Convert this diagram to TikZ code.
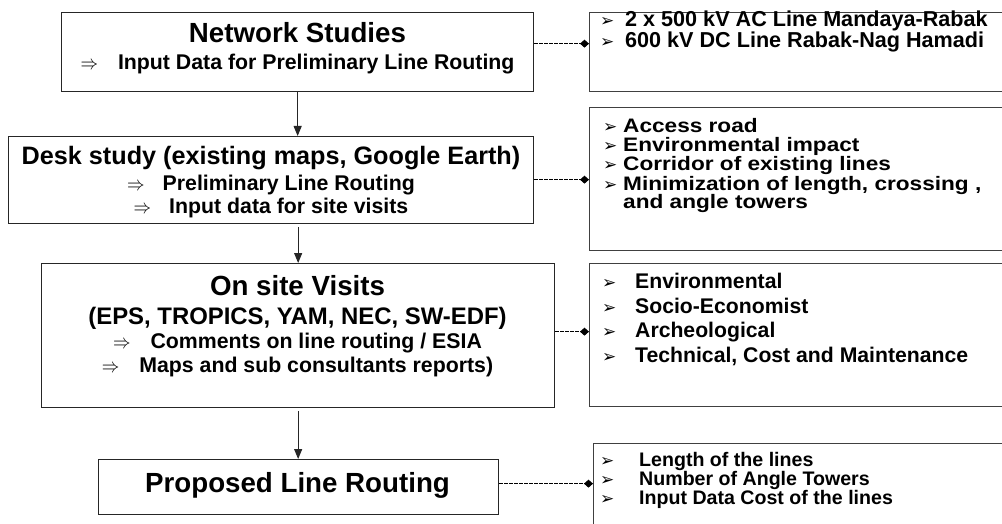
\documentclass[tikz,border=0pt]{standalone}
\usepackage{fontspec}
\usepackage{graphicx}
\usetikzlibrary{arrows.meta}
\setmainfont{Liberation Sans}
\newfontfamily\sidetxt{Liberation Sans}[FakeStretch=1.16]
\newfontfamily\bulletfont{DejaVu Sans}

% implication arrow in front of the sub-lines
\newcommand{\impl}[1]{\scalebox{1.75}[2.0]{\fontsize{10}{12}\selectfont$\Rightarrow$}\hspace{#1pt}}
% bullet of the side lists, set in a box of given width
\newcommand{\bul}[1]{\makebox[#1pt][l]{\bulletfont\mdseries\fontsize{17}{17}\selectfont ➢}}

\tikzset{
  box/.style={draw=black!85, line width=1.3pt, inner sep=0pt, anchor=north west},
  sidebox/.style={draw=black!75, line width=1.3pt, inner sep=0pt, anchor=north west},
  head/.style={anchor=base, inner sep=0pt, font=\bfseries\fontsize{27.7}{32}\selectfont},
  sub/.style={anchor=base, inner sep=0pt, font=\bfseries\fontsize{21.3}{25}\selectfont},
  itemA/.style={anchor=base west, inner sep=0pt, font=\bfseries\fontsize{21.6}{25}\selectfont},
  itemB/.style={anchor=base west, inner sep=0pt, font=\sidetxt\bfseries\fontsize{19.5}{23}\selectfont},
  itemC/.style={anchor=base west, inner sep=0pt, font=\bfseries\fontsize{21.2}{25}\selectfont},
  itemD/.style={anchor=base west, inner sep=0pt, font=\bfseries\fontsize{19.6}{23}\selectfont},
  flow/.style={line width=1pt, draw=black!85, -{Triangle[length=10pt,width=8pt]}},
  link/.style={line width=1.2pt, dash pattern=on 3.5pt off 1.5pt, -{Diamond[length=9pt,width=8pt]}},
}

\begin{document}
\begin{tikzpicture}[x=1pt, y=-1pt]
\useasboundingbox (0,0) rectangle (1002,524);
\clip (0,0) rectangle (1002,524);
\fill[white] (0,0) rectangle (1002,524);

% main process boxes
\node[box, minimum width=472pt, minimum height=79pt]  (b1) at (61,12)  {};
\node[box, minimum width=525pt, minimum height=87pt]  (b2) at (8,136)  {};
\node[box, minimum width=513pt, minimum height=144pt] (b3) at (41,263) {};
\node[box, minimum width=400pt, minimum height=55pt]  (b4) at (98,459) {};

% side boxes (running past the right edge)
\node[sidebox, minimum width=431pt, minimum height=79pt]  (r1) at (589,12)  {};
\node[sidebox, minimum width=431pt, minimum height=143pt] (r2) at (589,107) {};
\node[sidebox, minimum width=431pt, minimum height=143pt] (r3) at (589,263) {};
\node[sidebox, minimum width=427pt, minimum height=100pt] (r4) at (593,443) {};

% texts of the main boxes
\node[head] (t11) at (297.5,43) {Network Studies};
\node[sub]  (t12) at (297.5,70) {\impl{20}Input Data for Preliminary Line Routing};

\node[head, font=\bfseries\fontsize{25.2}{30}\selectfont] (t21) at (271,165) {Desk study (existing maps, Google Earth)};
\node[sub]  (t22) at (271,190) {\impl{18}Preliminary Line Routing};
\node[sub]  (t23) at (271,213) {\impl{18}Input data for site visits};

\node[head] (t31) at (297.5,295) {On site Visits};
\node[head, font=\bfseries\fontsize{23.9}{28}\selectfont] (t32) at (297.5,324) {(EPS, TROPICS, YAM, NEC, SW-EDF)};
\node[sub]  (t33) at (297.5,348) {\impl{20}Comments on line routing / ESIA};
\node[sub]  (t34) at (297.5,372) {\impl{20}Maps and sub consultants reports)};

\node[head] (t41) at (297.5,492) {Proposed Line Routing};

% side lists
\node[itemA] (s11) at (600,27) {\bul{25}2 x 500 kV AC Line Mandaya-Rabak};
\node[itemA] (s12) at (600,48) {\bul{25}600 kV DC Line Rabak-Nag Hamadi};

\node[itemB] (s21) at (603,133) {\bul{20}Access road};
\node[itemB] (s22) at (603,152) {\bul{20}Environmental impact};
\node[itemB] (s23) at (603,171) {\bul{20}Corridor of existing lines};
\node[itemB] (s24) at (603,190) {\bul{20}Minimization of length, crossing ,};
\node[itemB] (s25) at (623,208.5) {and angle towers};

\node[itemC] (s31) at (602,288) {\bul{33}Environmental};
\node[itemC] (s32) at (602,313) {\bul{33}Socio-Economist};
\node[itemC] (s33) at (602,337) {\bul{33}Archeological};
\node[itemC] (s34) at (602,362) {\bul{33}Technical, Cost and Maintenance};

\node[itemD] (s41) at (600,466) {\bul{39}Length of the lines};
\node[itemD] (s42) at (600,485) {\bul{39}Number of Angle Towers};
\node[itemD] (s43) at (600,504) {\bul{39}Input Data Cost of the lines};

% process flow
\draw[flow] (b1.south) -- (b1.south |- b2.north);
\draw[flow, shorten <=3pt] (b3.north |- b2.south) -- (b3.north);
\draw[flow, shorten <=3pt] (b3.south) -- (b3.south |- b4.north);

% links to the side lists
\coordinate (c1) at ([yshift=8.5pt]b1.east);
\coordinate (c2) at ([yshift=0.5pt]b2.east);
\coordinate (c3) at ([yshift=4pt]b3.east);
\coordinate (c4) at ([yshift=3.5pt]b4.east);
\draw[link] (c1) -- (c1 -| r1.west);
\draw[link] (c2) -- (c2 -| r2.west);
\draw[link] (c3) -- (c3 -| r3.west);
\draw[link] (c4) -- (c4 -| r4.west);
\end{tikzpicture}
\end{document}
